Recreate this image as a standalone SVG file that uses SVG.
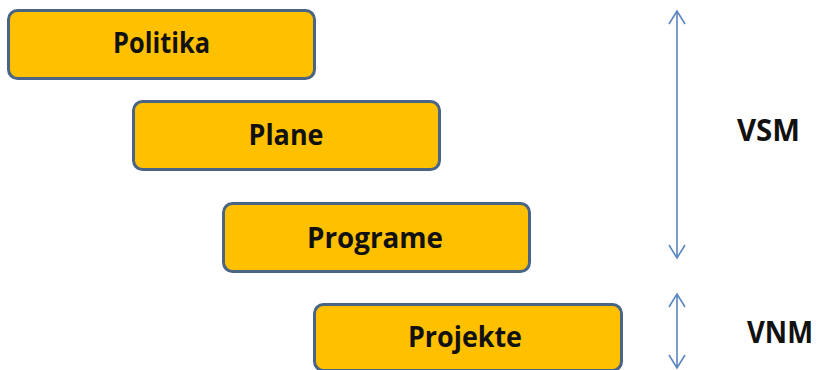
<svg xmlns="http://www.w3.org/2000/svg" width="821" height="370" viewBox="0 0 821 370">
<style>
.box{fill:#FFC000;stroke:#4A6485;stroke-width:3}
.lbl{font-family:"Open Sans","Liberation Sans",sans-serif;font-weight:700;font-size:29px;fill:#111;text-anchor:middle}
.side{font-family:"Open Sans","Liberation Sans",sans-serif;font-weight:700;font-size:31px;fill:#111;text-anchor:middle}
.conn{stroke:#5B86BF;stroke-width:1.6;fill:none}
</style>
<rect width="821" height="370" fill="#fff"/>
<g id="politika"><rect class="box" x="8.5" y="10.5" width="306" height="68" rx="9"/><text class="lbl" x="161.5" y="53" textLength="97" lengthAdjust="spacingAndGlyphs">Politika</text></g>
<g id="plane"><rect class="box" x="133.5" y="101.5" width="306" height="68" rx="9"/><text class="lbl" x="286" y="145" textLength="75" lengthAdjust="spacingAndGlyphs">Plane</text></g>
<g id="programe"><rect class="box" x="223.5" y="203.5" width="306" height="68" rx="9"/><text class="lbl" x="375" y="248" textLength="136" lengthAdjust="spacingAndGlyphs">Programe</text></g>
<g id="projekte"><rect class="box" x="314.5" y="304.5" width="307" height="66" rx="9"/><text class="lbl" x="465" y="347" textLength="114" lengthAdjust="spacingAndGlyphs">Projekte</text></g>
<g id="vsm"><text class="side" x="768.5" y="141" textLength="63" lengthAdjust="spacingAndGlyphs">VSM</text></g>
<g id="vnm"><text class="side" x="780" y="343" textLength="66" lengthAdjust="spacingAndGlyphs">VNM</text></g>
<g id="connectors">
<path class="conn" d="M677 11V258M669 24L677 11L685 24M669 245L677 258L685 245"/>
<path class="conn" d="M677 294V368M669 307L677 294L685 307M669 355L677 368L685 355"/>
</g>
</svg>
